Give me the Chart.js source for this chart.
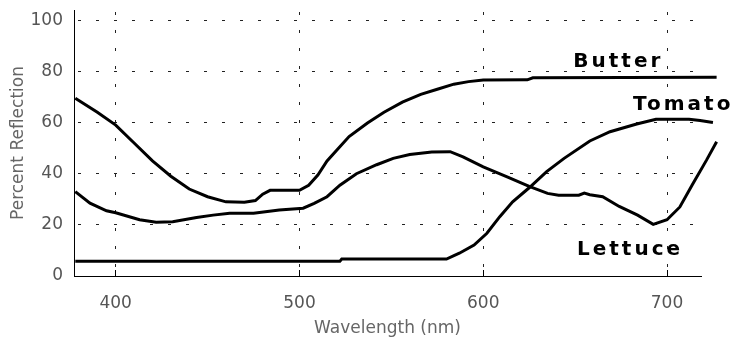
<!DOCTYPE html>
<html>
<head>
<meta charset="utf-8">
<script src="https://cdn.jsdelivr.net/npm/chart.js@4"></script>
<style>
  body { margin: 0; background: #fff; }
</style>
</head>
<body>
<canvas id="chart" width="739" height="340"></canvas>
<script>
'use strict';
//data
let names = ['Butter', 'Tomato', 'Lettuce'];

let butterNm = [378, 390, 400, 410, 420, 430, 440, 450, 460, 470, 476, 480, 484, 500, 505, 510, 515, 520, 527, 537, 546, 556, 566, 575, 584, 592, 600, 624, 627, 727];
let butterPct = [69.5, 64, 59, 52, 45, 39, 34, 31, 29, 28.8, 29.5, 32, 33.5, 33.5, 35.5, 39.5, 45, 49, 54.5, 59.8, 64, 68, 71, 73, 75, 76, 76.6, 76.7, 77.5, 77.7];

let tomatoNm = [378, 522, 523, 580, 587, 595, 602, 609, 616, 625, 634.5, 644, 658, 669, 683.5, 694, 712, 718, 725];
let tomatoPct = [5.8, 5.8, 6.6, 6.6, 8.9, 12.1, 16.7, 23.2, 29, 34.5, 40.8, 46, 52.8, 56.4, 59.4, 61.3, 61.3, 60.8, 60];

let lettuceNm = [378, 386, 395, 400, 413, 422, 431, 444, 453, 462, 475, 489, 502, 508, 515, 522, 531, 542, 551, 560, 572, 582, 589, 600, 613, 625, 635, 641, 652, 655, 658, 665, 674, 684, 692.5, 700, 707, 714, 721.5, 727];
let lettucePct = [33, 28.5, 25.5, 24.7, 22, 21, 21.2, 22.9, 23.8, 24.5, 24.5, 25.8, 26.5, 28.4, 31, 35.5, 40, 43.5, 46, 47.5, 48.5, 48.6, 46.6, 42.7, 38.8, 35, 32.3, 31.6, 31.6, 32.4, 31.8, 31, 27.2, 23.8, 20.2, 22, 27, 36, 45.3, 52.5];

let xTicks = [400, 500, 600, 700];
let yTicks = [0, 20, 40, 60, 80, 100];

//where the series names sit (data units)
let noteNm = [649, 681.5, 651];
let notePct = [81.8, 64.8, 8.4];

function toPoints(xs, ys){
  let pts = [];
  for (let i = 0; i < xs.length; i++){
    pts.push({x: xs[i], y: ys[i]});
  }
  return pts;
}

function lineSet(label, xs, ys){
  return {
    label: label,
    data: toPoints(xs, ys),
    borderColor: '#000',
    borderWidth: 3,
    pointRadius: 0,
    tension: 0,
    fill: false,
    clip: false
  };
}

//inward ticks + series names
let extrasPlugin = {
  id: 'extras',
  afterDatasetsDraw(chart){
    let ctx = chart.ctx;
    let x = chart.scales.x;
    let y = chart.scales.y;
    let area = chart.chartArea;
    ctx.save();
    ctx.strokeStyle = '#000';
    ctx.lineWidth = 1;
    xTicks.forEach(v => {
      let px = Math.round(x.getPixelForValue(v) - 0.5) + 0.5;
      ctx.beginPath();
      ctx.moveTo(px, area.bottom - 6);
      ctx.lineTo(px, area.bottom);
      ctx.stroke();
    });
    ctx.fillStyle = '#000';
    ctx.font = 'bold 20px "DejaVu Sans"';
    ctx.letterSpacing = '3px';
    ctx.textAlign = 'left';
    ctx.textBaseline = 'alphabetic';
    for (let i = 0; i < names.length; i++){
      ctx.fillText(names[i], x.getPixelForValue(noteNm[i]), y.getPixelForValue(notePct[i]));
    }
    ctx.restore();
  }
};

let tickFont = {family: '"DejaVu Sans", sans-serif', size: 17};

new Chart(document.getElementById('chart').getContext('2d'), {
  type: 'line',
  data: {
    datasets: [
      lineSet(names[0], butterNm, butterPct),
      lineSet(names[1], tomatoNm, tomatoPct),
      lineSet(names[2], lettuceNm, lettucePct)
    ]
  },
  options: {
    responsive: false,
    devicePixelRatio: 1,
    animation: false,
    layout: {padding: {top: 10, right: 38, bottom: 0, left: 0}},
    plugins: {
      legend: {display: false},
      tooltip: {enabled: false}
    },
    scales: {
      x: {
        type: 'linear',
        bounds: 'data',
        afterDataLimits(scale){
          scale.min = 377.3;
          scale.max = 718.5;
        },
        afterBuildTicks(scale){
          scale.ticks = xTicks.map(v => ({value: v}));
        },
        afterFit(scale){
          scale.height = 64;
          scale.paddingLeft = 0;
          scale.paddingRight = 0;
        },
        //dash here is for the grid lines (v4)
        border: {display: true, color: '#000', width: 1, dash: [3, 15], dashOffset: -2},
        grid: {
          color: '#222',
          lineWidth: 1,
          drawTicks: false
        },
        ticks: {
          color: '#555',
          font: tickFont,
          padding: 17,
          maxRotation: 0
        },
        title: {
          display: true,
          text: 'Wavelength (nm)',
          color: '#666',
          font: tickFont,
          padding: {top: 0, bottom: 1}
        }
      },
      y: {
        type: 'linear',
        min: 0,
        max: 104,
        bounds: 'data',
        afterBuildTicks(scale){
          scale.ticks = yTicks.map(v => ({value: v}));
        },
        afterFit(scale){
          scale.width = 74;
          scale.paddingTop = 0;
          scale.paddingBottom = 0;
        },
        border: {display: true, color: '#000', width: 1, dash: [3, 15], dashOffset: -3},
        grid: {
          color: '#222',
          lineWidth: 1,
          drawTicks: false
        },
        ticks: {
          color: '#555',
          font: tickFont,
          padding: 11
        },
        title: {
          display: true,
          text: 'Percent Reflection',
          color: '#666',
          font: tickFont,
          padding: {top: 8, bottom: 0}
        }
      }
    }
  },
  plugins: [extrasPlugin]
});
</script>
</body>
</html>
